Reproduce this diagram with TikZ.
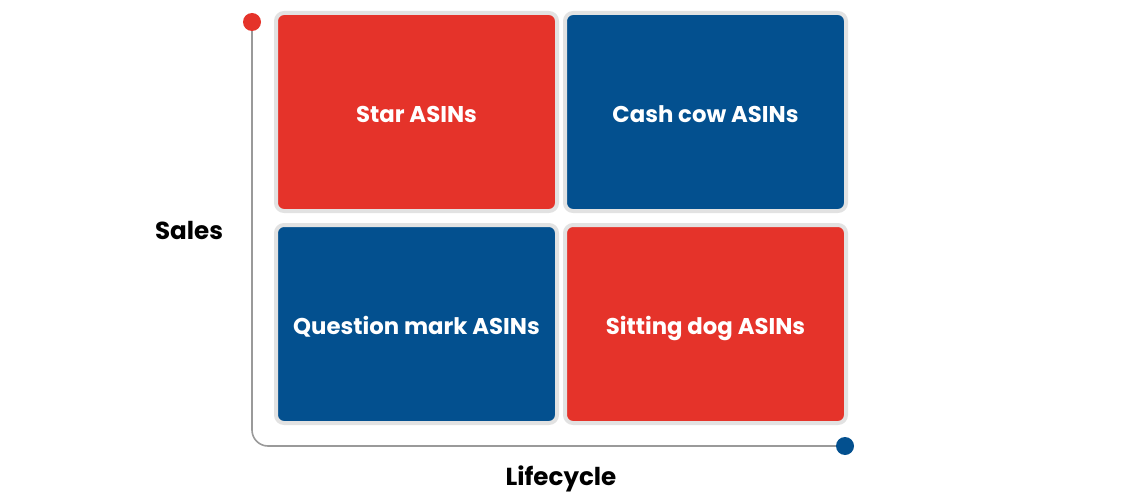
\documentclass[tikz,border=0pt]{standalone}
\usepackage{fontspec}
\setmainfont{Poppins}
\definecolor{asinred}{HTML}{E5332A}
\definecolor{asinblue}{HTML}{03508F}
\definecolor{boxrim}{HTML}{E2E2E2}
\definecolor{axisgray}{HTML}{9A9A9A}
\tikzset{
  quad/.style={draw=boxrim,line width=4pt,rounded corners=8pt,minimum width=281pt,
    minimum height=198pt,inner sep=0pt,text height=21pt,text depth=0pt,text=white,
    font=\bfseries\fontsize{22.8}{27}\selectfont},
  axisdot/.style={circle,inner sep=0pt,minimum size=18pt},
  axislabel/.style={font=\bfseries\fontsize{24.6}{29}\selectfont}
}
\begin{document}
\begin{tikzpicture}[x=1pt,y=-1pt]
  \useasboundingbox (0,0) rectangle (1140,500);
  % the four quadrants
  \foreach \n/\x/\y/\c/\t in {star/416.5/112/asinred/Star ASINs,
      cashcow/705.5/112/asinblue/Cash cow ASINs,
      question/416.5/324/asinblue/Question mark ASINs,
      sittingdog/705.5/324/asinred/Sitting dog ASINs}{
    \node[quad,fill=\c] (\n) at (\x,\y) {\t};
  }
  % axes
  \node[axisdot,fill=asinred] (salestop) at (252,22) {};
  \node[axisdot,fill=asinblue] (lifeend) at (845,446) {};
  \draw[axisgray,line width=1.6pt,rounded corners=16pt] (salestop) |- (lifeend);
  \node[axislabel] (sales) at (189,230) {Sales};
  \node[axislabel] (lifecycle) at (561,479) {Lifecycle};
\end{tikzpicture}
\end{document}
